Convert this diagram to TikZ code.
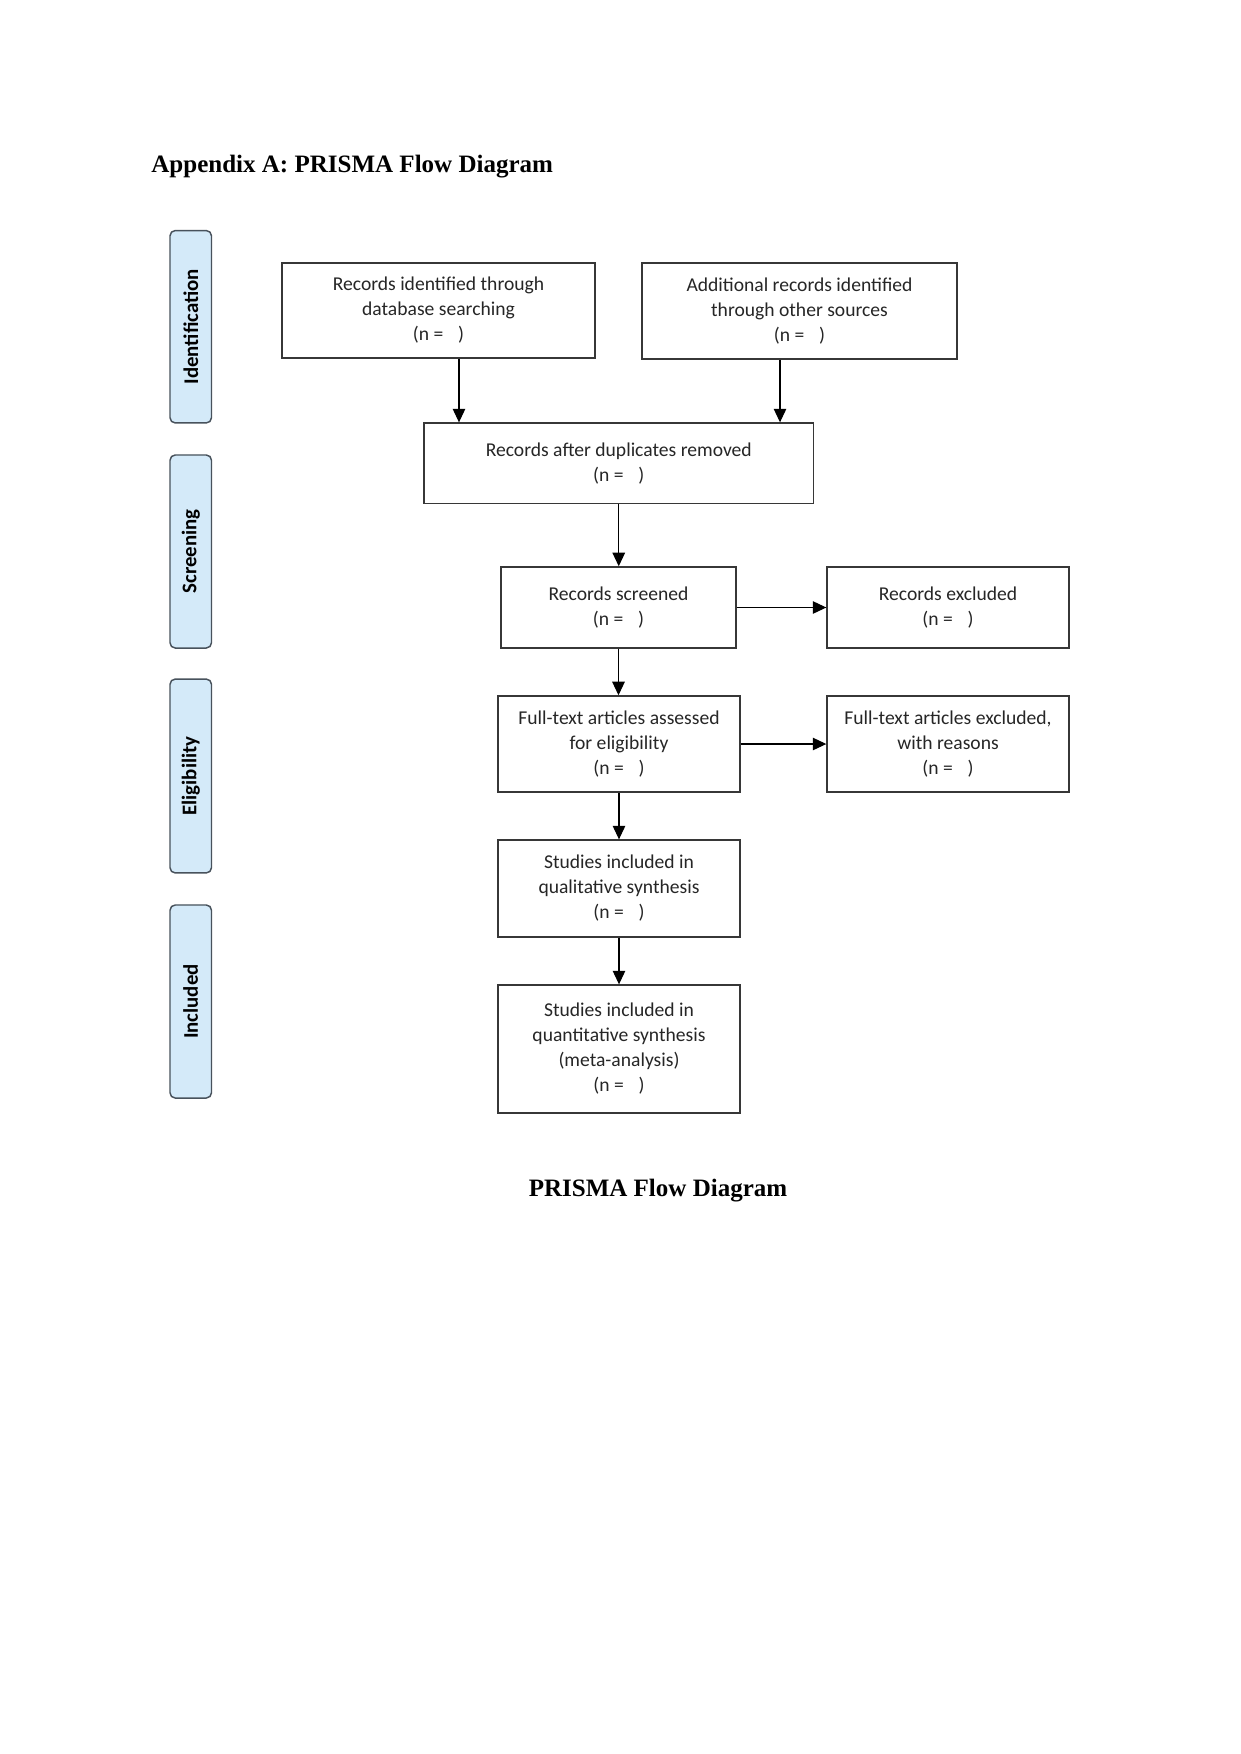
\documentclass[tikz,border=0pt]{standalone}
\usepackage{fontspec}
\setmainfont{Liberation Serif}
\newfontfamily\boxfont{Carlito}
\usetikzlibrary{arrows.meta}
\definecolor{sidefill}{RGB}{212,234,249}
\definecolor{sidedraw}{RGB}{72,82,92}
\definecolor{boxdraw}{RGB}{55,55,55}
\newcommand{\nblank}{(n =\hspace{0.75em})}
\tikzset{
  flowbox/.style={draw=boxdraw, line width=0.65pt, fill=white, align=center, inner sep=0pt,
    font=\boxfont\fontsize{9.4}{12}\selectfont, text=black!85},
  sidebox/.style={draw=sidedraw, line width=0.7pt, fill=sidefill, rounded corners=2.5pt,
    inner sep=0pt, font=\boxfont\bfseries\fontsize{10}{12}\selectfont, rotate=90},
  arr/.style={draw=black, line width=0.55pt, -{Triangle[width=6pt,length=6.5pt]}},
  titletext/.style={font=\bfseries\fontsize{12}{14}\selectfont, inner sep=0pt}
}
\begin{document}
\begin{tikzpicture}[x=0.4797pt, y=-0.4797pt]
\useasboundingbox (0,0) rectangle (1241,1754);
\fill[white] (0,0) rectangle (1241,1754);

\node[titletext, anchor=base west] (title) at (151,173) {Appendix A: PRISMA Flow Diagram};
\node[titletext, anchor=base] (caption) at (658,1196) {PRISMA Flow Diagram};

% side labels
\node[sidebox, minimum width=92.3pt, minimum height=19.9pt] (sid) at (190.75,326.75) {Identification};
\node[sidebox, minimum width=92.6pt, minimum height=19.9pt] (sscr) at (190.75,551.5) {Screening};
\node[sidebox, minimum width=93pt, minimum height=19.9pt] (sel) at (190.75,776) {Eligibility};
\node[sidebox, minimum width=92.6pt, minimum height=19.9pt] (sinc) at (190.75,1001.5) {Included};

% boxes
\node[flowbox, minimum width=150.2pt, minimum height=45.6pt] (db) at (438.5,310.5)
  {Records identified through\\database searching\\\nblank};
\node[flowbox, minimum width=151.1pt, minimum height=46.1pt] (other) at (799.5,311)
  {Additional records identified\\through other sources\\\nblank};
\node[flowbox, minimum width=186.8pt, minimum height=38.6pt] (dup) at (618.75,463.25)
  {Records after duplicates removed\\\nblank};
\node[flowbox, minimum width=112.7pt, minimum height=38.9pt] (scr) at (618.5,607.5)
  {Records screened\\\nblank};
\node[flowbox, minimum width=116.1pt, minimum height=38.9pt] (exc) at (948,607.5)
  {Records excluded\\\nblank};
\node[flowbox, minimum width=116.1pt, minimum height=46.1pt] (ft) at (619,744)
  {Full-text articles assessed\\for eligibility\\\nblank};
\node[flowbox, minimum width=116.1pt, minimum height=46.1pt] (ftex) at (948,744)
  {Full-text articles excluded,\\with reasons\\\nblank};
\node[flowbox, minimum width=116.1pt, minimum height=46.5pt] (qual) at (619,888.5)
  {Studies included in\\qualitative synthesis\\\nblank};
\node[flowbox, minimum width=116.1pt, minimum height=61.4pt] (quant) at (619,1049)
  {Studies included in\\quantitative synthesis\\(meta-analysis)\\\nblank};

% connectors
\draw[arr] ([xshift=9.83pt]db.south) -- ([xshift=9.83pt]db.south |- dup.north);
\draw[arr] ([xshift=-9.35pt]other.south) -- ([xshift=-9.35pt]other.south |- dup.north);
\draw[arr] (dup.south) -- (dup.south |- scr.north);
\draw[arr] (scr.east) -- (exc.west);
\draw[arr] (scr.south) -- (scr.south |- ft.north);
\draw[arr] (ft.east) -- (ftex.west);
\draw[arr] (ft.south) -- (qual.north);
\draw[arr] (qual.south) -- (quant.north);
\end{tikzpicture}
\end{document}
